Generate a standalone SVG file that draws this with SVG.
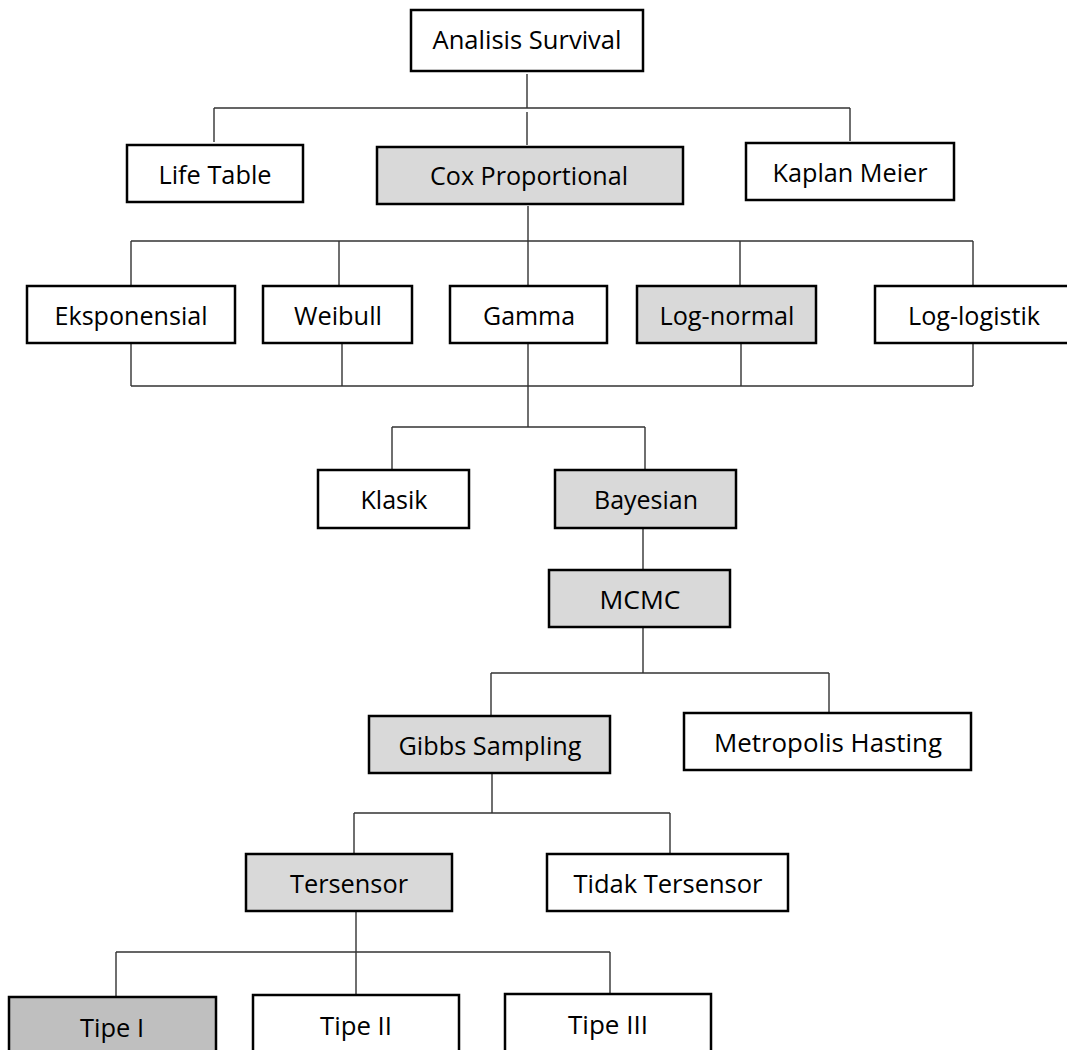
<svg xmlns="http://www.w3.org/2000/svg" width="1067" height="1050" viewBox="0 0 1067 1050">
<style>
.box{fill:#ffffff;stroke:#000000;stroke-width:2.5}
.hl{fill:#d9d9d9}
.hl2{fill:#bfbfbf}
.lbl{font-family:"Open Sans","Liberation Sans",sans-serif;font-size:25px;fill:#000000;text-anchor:middle}
.conn{fill:none;stroke:#333333;stroke-width:1.4}
</style>
<rect width="1067" height="1050" fill="#ffffff"/>
<g id="connectors">
<path class="conn" d="M527,74V108M214,108H850M214,108V142M527,112V145M850,108V141"/>
<path class="conn" d="M528,206V241M131,241H973M131,241V285M339,241V285M528,241V285M740,241V285M973,241V285"/>
<path class="conn" d="M131,344V386M342,344V386M528,344V386M741,344V386M973,344V386M131,386H973M528,386V427"/>
<path class="conn" d="M392,427H645M392,427V469M645,427V469"/>
<path class="conn" d="M643,529V569"/>
<path class="conn" d="M643,628V673M491,673H829M491,673V715M829,673V712"/>
<path class="conn" d="M492,774V813M354,813H670M354,813V853M670,813V853"/>
<path class="conn" d="M356,912V994M116,952H610M116,952V996M610,952V993"/>
</g>
<g id="n-analisis"><rect class="box" x="411" y="10" width="232" height="61"/><text class="lbl" x="527" y="49" textLength="189" lengthAdjust="spacingAndGlyphs">Analisis Survival</text></g>
<g id="n-lifetable"><rect class="box" x="127" y="145" width="176" height="57"/><text class="lbl" x="215" y="184" textLength="113" lengthAdjust="spacingAndGlyphs">Life Table</text></g>
<g id="n-cox"><rect class="box hl" x="377" y="147" width="306" height="57"/><text class="lbl" x="529" y="185" textLength="198" lengthAdjust="spacingAndGlyphs">Cox Proportional</text></g>
<g id="n-kaplan"><rect class="box" x="746" y="143" width="208" height="57"/><text class="lbl" x="850" y="182" textLength="155" lengthAdjust="spacingAndGlyphs">Kaplan Meier</text></g>
<g id="n-eksponensial"><rect class="box" x="27" y="286" width="208" height="57"/><text class="lbl" x="131" y="325" textLength="153" lengthAdjust="spacingAndGlyphs">Eksponensial</text></g>
<g id="n-weibull"><rect class="box" x="263" y="286" width="149" height="57"/><text class="lbl" x="338" y="325" textLength="88" lengthAdjust="spacingAndGlyphs">Weibull</text></g>
<g id="n-gamma"><rect class="box" x="450" y="286" width="157" height="57"/><text class="lbl" x="529" y="325" textLength="92" lengthAdjust="spacingAndGlyphs">Gamma</text></g>
<g id="n-lognormal"><rect class="box hl" x="637" y="286" width="179" height="57"/><text class="lbl" x="727" y="325" textLength="135" lengthAdjust="spacingAndGlyphs">Log-normal</text></g>
<g id="n-loglogistik"><rect class="box" x="875" y="286" width="200" height="57"/><text class="lbl" x="974" y="325" textLength="132" lengthAdjust="spacingAndGlyphs">Log-logistik</text></g>
<g id="n-klasik"><rect class="box" x="318" y="470" width="151" height="58"/><text class="lbl" x="394" y="509" textLength="67" lengthAdjust="spacingAndGlyphs">Klasik</text></g>
<g id="n-bayesian"><rect class="box hl" x="555" y="470" width="181" height="58"/><text class="lbl" x="646" y="509" textLength="104" lengthAdjust="spacingAndGlyphs">Bayesian</text></g>
<g id="n-mcmc"><rect class="box hl" x="549" y="570" width="181" height="57"/><text class="lbl" x="640" y="609" textLength="81" lengthAdjust="spacingAndGlyphs">MCMC</text></g>
<g id="n-gibbs"><rect class="box hl" x="369" y="716" width="241" height="57"/><text class="lbl" x="490" y="755" textLength="183" lengthAdjust="spacingAndGlyphs">Gibbs Sampling</text></g>
<g id="n-metropolis"><rect class="box" x="684" y="713" width="287" height="57"/><text class="lbl" x="828" y="752" textLength="228" lengthAdjust="spacingAndGlyphs">Metropolis Hasting</text></g>
<g id="n-tersensor"><rect class="box hl" x="246" y="854" width="206" height="57"/><text class="lbl" x="349" y="893" textLength="118" lengthAdjust="spacingAndGlyphs">Tersensor</text></g>
<g id="n-tidak"><rect class="box" x="547" y="854" width="241" height="57"/><text class="lbl" x="668" y="893" textLength="189" lengthAdjust="spacingAndGlyphs">Tidak Tersensor</text></g>
<g id="n-tipe1"><rect class="box hl2" x="9" y="997" width="207" height="70"/><text class="lbl" x="112" y="1037" textLength="64" lengthAdjust="spacingAndGlyphs">Tipe I</text></g>
<g id="n-tipe2"><rect class="box" x="253" y="995" width="206" height="70"/><text class="lbl" x="356" y="1035" textLength="72" lengthAdjust="spacingAndGlyphs">Tipe II</text></g>
<g id="n-tipe3"><rect class="box" x="505" y="994" width="206" height="70"/><text class="lbl" x="608" y="1034" textLength="80" lengthAdjust="spacingAndGlyphs">Tipe III</text></g>
</svg>
